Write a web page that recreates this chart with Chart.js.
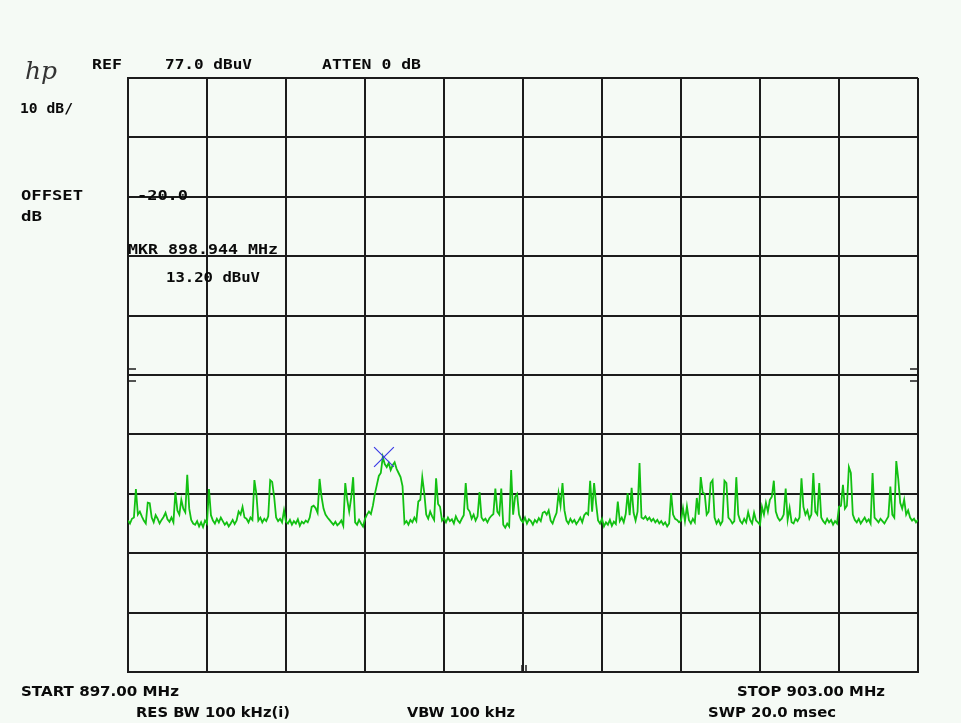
<!DOCTYPE html>
<html>
<head>
<meta charset="utf-8">
<script src="https://cdn.jsdelivr.net/npm/chart.js@4.4.1/dist/chart.umd.min.js"></script>
<style>
  html, body { margin: 0; padding: 0; background: #f5faf5; }
  #wrap { width: 961px; height: 723px; position: relative; }
</style>
</head>
<body>
<div id="wrap"><canvas id="sa" width="961" height="723"></canvas></div>
<script>
// sweep settings
const startFreq = 897.00;
const stopFreq = 903.00;
const refLevel = 77.0;

// graticule lines (10 div x 10 div)
const freqGrid = [897.0, 897.6, 898.2, 898.8, 899.4, 900.0, 900.6, 901.2, 901.8, 902.4, 903.0];
const levelGrid = [-23, -13, -3, 7, 17, 27, 37, 47, 57, 67, 77];

// trace, 401 points, dBuV
const trace = [
  2.5, 2.0, 2.8, 3.0, 7.8, 3.5, 4.0, 3.2, 2.5, 2.0, 5.5, 5.4, 3.0, 2.2, 3.4, 2.8, 2.0, 2.6, 3.1, 3.8,
  2.7, 2.3, 3.0, 2.2, 7.3, 4.2, 3.5, 6.0, 4.5, 3.9, 10.2, 4.5, 2.6, 2.0, 1.8, 2.4, 1.5, 2.2, 1.4, 2.5,
  2.0, 7.8, 3.4, 2.5, 2.0, 2.8, 2.2, 3.0, 2.4, 1.8, 2.2, 1.5, 2.0, 2.6, 1.9, 2.5, 4.0, 3.5, 4.8, 3.0,
  2.8, 2.2, 3.0, 2.6, 9.3, 7.0, 2.5, 3.0, 2.2, 2.8, 2.4, 3.2, 9.3, 9.0, 6.5, 3.0, 2.4, 2.8, 2.2, 4.2,
  2.3, 2.0, 2.6, 1.8, 2.4, 2.0, 2.7, 1.6, 2.3, 2.0, 2.5, 2.2, 3.0, 4.8, 5.0, 4.6, 3.8, 9.5, 6.5, 4.5,
  3.5, 3.0, 2.6, 2.2, 1.8, 2.3, 1.7, 2.0, 2.5, 1.6, 8.8, 6.0, 4.0, 6.3, 9.8, 2.2, 1.8, 2.6, 2.0, 1.5,
  2.8, 3.5, 4.0, 3.6, 5.0, 7.0, 8.5, 10.0, 10.5, 13.2, 12.0, 11.5, 12.2, 11.0, 11.8, 12.3, 11.2, 10.5, 9.8, 8.3,
  2.0, 2.4, 1.8, 2.6, 2.2, 3.0, 2.4, 5.7, 6.0, 9.8, 7.2, 3.5, 2.8, 4.0, 3.2, 2.6, 9.6, 5.3, 4.8, 2.5,
  2.9, 2.2, 3.0, 2.4, 2.7, 2.0, 3.2, 2.5, 2.1, 2.8, 3.4, 8.8, 4.5, 4.0, 2.8, 3.5, 2.5, 3.2, 7.3, 3.0,
  2.5, 2.8, 2.2, 2.9, 3.3, 3.6, 7.9, 4.0, 3.5, 7.9, 1.8, 1.3, 2.0, 1.5, 11.0, 3.5, 6.5, 7.0, 3.5, 2.6,
  2.2, 3.0, 2.0, 2.7, 2.4, 1.8, 2.6, 2.2, 2.9, 2.4, 3.8, 4.0, 3.5, 4.2, 2.5, 2.0, 3.0, 3.8, 7.1, 5.0,
  8.8, 4.2, 2.5, 2.0, 2.8, 2.2, 2.6, 1.9, 2.4, 3.0, 2.2, 3.4, 3.8, 3.5, 9.2, 4.0, 8.8, 5.4, 2.5, 2.0,
  2.8, 1.5, 2.2, 1.8, 2.6, 1.6, 2.3, 1.9, 5.7, 2.4, 3.0, 2.2, 3.6, 7.1, 3.4, 8.0, 3.8, 2.5, 4.0, 12.2,
  3.0, 2.8, 3.2, 2.6, 3.0, 2.4, 2.8, 2.2, 2.6, 2.0, 2.4, 1.8, 2.2, 1.5, 2.0, 7.1, 3.5, 2.8, 2.6, 2.2,
  2.5, 4.6, 2.4, 4.9, 2.6, 2.0, 2.8, 2.2, 6.3, 3.5, 9.8, 7.2, 7.0, 3.5, 4.0, 8.8, 9.3, 3.0, 2.0, 2.6,
  1.8, 2.4, 9.2, 8.8, 3.0, 2.6, 2.0, 2.4, 9.8, 3.5, 2.4, 2.0, 2.8, 2.2, 3.9, 2.6, 2.0, 3.8, 2.5, 2.2,
  1.8, 4.8, 3.5, 5.5, 4.0, 6.0, 6.5, 9.2, 4.0, 3.0, 2.5, 2.8, 3.5, 7.9, 2.6, 4.6, 2.2, 2.0, 2.8, 2.4,
  3.0, 9.6, 4.8, 3.5, 4.2, 2.8, 3.5, 10.5, 4.0, 3.5, 8.8, 3.0, 2.4, 2.0, 2.8, 2.2, 2.6, 1.8, 2.4, 2.0,
  4.8, 5.0, 8.5, 4.5, 5.0, 11.5, 10.5, 3.5, 2.6, 2.2, 2.8, 2.0, 2.5, 3.0, 2.3, 2.7, 2.0, 10.5, 3.0, 2.6,
  2.2, 2.8, 2.4, 2.0, 2.6, 3.2, 8.2, 3.5, 3.0, 12.5, 9.5, 5.5, 4.5, 6.0, 3.5, 4.2, 3.0, 2.5, 2.8, 2.2,
  2.6
];

// marker
const markerFreq = [898.944];
const markerLevel = [13.20];

// annotation texts
const topTexts = ['REF', '77.0 dBuV', 'ATTEN 0 dB', '10 dB/', 'OFFSET', 'dB', '-20.0', 'MKR 898.944 MHz', '13.20 dBuV'];
const bottomTexts = ['START 897.00 MHz', 'STOP 903.00 MHz', 'RES BW 100 kHz(i)', 'VBW 100 kHz', 'SWP 20.0 msec'];

// where they sit: [x, baseline, width]
const topPos = [[92, 69, 30], [165, 69, 87], [322, 69, 99], [20, 113, 53], [21, 200, 62], [21, 221, 21], [137, 200, 51], [128, 254, 150], [166, 282, 94]];
const bottomPos = [[21, 696, 158], [737, 696, 148], [136, 717, 154], [407, 717, 108], [708, 717, 128]];

const gridColor = '#1c1c1c';
const traceColor = '#12c012';

function fitText(ctx, txt, x, y, w, font) {
  ctx.save();
  ctx.font = font;
  const m = ctx.measureText(txt).width;
  ctx.translate(x, y);
  ctx.scale(w / m, 1);
  ctx.fillText(txt, 0, 0);
  ctx.restore();
}

const screenText = {
  id: 'screenText',
  afterDraw(chart) {
    const ctx = chart.ctx;
    const xs = chart.scales.x, ys = chart.scales.y;
    ctx.save();
    ctx.fillStyle = '#0a0a0a';
    ctx.textBaseline = 'alphabetic';
    topTexts.forEach((t, i) => {
      const p = topPos[i];
      fitText(ctx, t, p[0], p[1], p[2], 'bold 14px "DejaVu Sans Mono", monospace');
    });
    bottomTexts.forEach((t, i) => {
      const p = bottomPos[i];
      fitText(ctx, t, p[0], p[1], p[2], 'bold 14px "DejaVu Sans", sans-serif');
    });
    // hp logo
    ctx.font = 'italic 25px "DejaVu Serif", serif';
    ctx.fillStyle = '#333';
    ctx.fillText('hp', 25, 79);

    // display line ticks at mid screen
    ctx.strokeStyle = gridColor;
    ctx.lineWidth = 1.5;
    const yMid = ys.getPixelForValue(27);
    [-6, 6].forEach(d => {
      ctx.beginPath();
      ctx.moveTo(xs.left, yMid + d); ctx.lineTo(xs.left + 8, yMid + d);
      ctx.moveTo(xs.right, yMid + d); ctx.lineTo(xs.right - 8, yMid + d);
      ctx.stroke();
    });
    // centre freq ticks
    const xc = xs.getPixelForValue(900);
    [-1, 3].forEach(d => {
      ctx.beginPath();
      ctx.moveTo(xc + d, ys.bottom); ctx.lineTo(xc + d, ys.bottom - 7);
      ctx.stroke();
    });
    ctx.restore();
  }
};

const step = (stopFreq - startFreq) / (trace.length - 1);

new Chart(document.getElementById('sa'), {
  type: 'line',
  data: {
    datasets: [{
      type: 'scatter',
      data: markerFreq.map((f, i) => ({ x: f, y: markerLevel[i] })),
      pointStyle: 'crossRot',
      pointRadius: 14,
      borderColor: '#3b3be6',
      borderWidth: 1.2,
      showLine: false,
      order: 0
    }, {
      data: trace.map((v, i) => ({ x: startFreq + i * step, y: v })),
      borderColor: traceColor,
      borderWidth: 1.8,
      pointRadius: 0,
      tension: 0,
      fill: false,
      order: 1
    }]
  },
  options: {
    responsive: false,
    animation: false,
    layout: { padding: { left: 128, top: 78, right: 43, bottom: 51 } },
    plugins: { legend: { display: false }, tooltip: { enabled: false } },
    scales: {
      x: {
        type: 'linear', min: startFreq, max: stopFreq,
        afterBuildTicks: a => { a.ticks = freqGrid.map(v => ({ value: v })); },
        ticks: { display: false },
        grid: { color: gridColor, lineWidth: 2, drawTicks: false },
        border: { display: true, color: gridColor, width: 2 }
      },
      y: {
        type: 'linear', min: refLevel - 100, max: refLevel,
        afterBuildTicks: a => { a.ticks = levelGrid.map(v => ({ value: v })); },
        ticks: { display: false },
        grid: { color: gridColor, lineWidth: 2, drawTicks: false },
        border: { display: true, color: gridColor, width: 2 }
      }
    }
  },
  plugins: [screenText]
});
</script>
</body>
</html>
